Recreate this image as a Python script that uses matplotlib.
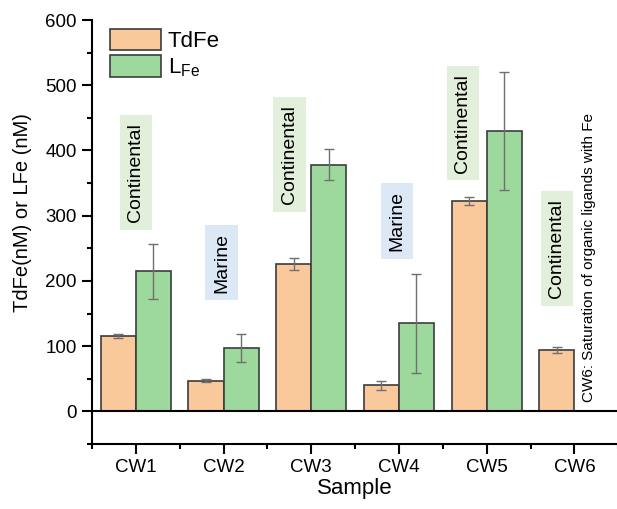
import numpy as np
import matplotlib
matplotlib.use("Agg")
import matplotlib.pyplot as plt
from matplotlib.ticker import MultipleLocator

plt.rcParams['font.family'] = ['Liberation Sans', 'DejaVu Sans']
plt.rcParams['mathtext.fontset'] = 'custom'
plt.rcParams['mathtext.rm'] = 'Liberation Sans'

# data
samples = ['CW1', 'CW2', 'CW3', 'CW4', 'CW5', 'CW6']
tdfe = [115, 47, 226, 40, 323, 94]
tdfe_err = [3, 2, 9, 6.5, 6, 5]
lfe = [215, 97, 378, 135, 430, 0]
lfe_err = [42, 21, 24, 76, 91, 0]

# region labels (text, kind, x, y)
reg_text = ['Continental', 'Marine', 'Continental', 'Marine', 'Continental', 'Continental']
reg_kind = ['c', 'm', 'c', 'm', 'c', 'c']
reg_x = [1.0, 1.98, 2.75, 3.98, 4.73, 5.80]
reg_y = [366, 228, 394, 292, 442, 250]
note = 'CW6: Saturation of organic ligands with Fe'

orange = '#f9c89b'
green = '#9dd89c'
box_col = {'c': '#e2efda', 'm': '#dce8f5'}

fig = plt.figure(figsize=(6.17, 5.09), dpi=100)
ax = fig.add_axes([0.149, 0.1277, 0.853, 0.833])

x = np.arange(1, len(samples) + 1)
w = 0.4
ekw = dict(ecolor='#707070', elinewidth=1, capsize=3.3, capthick=1)
ax.bar(x - w / 2, tdfe, w, yerr=tdfe_err, color=orange, edgecolor='#3c3c3c',
       linewidth=1.2, error_kw=ekw, label='TdFe', zorder=2)
n = len(samples) - 1
ax.bar(x[:n] + w / 2, lfe[:n], w, yerr=lfe_err[:n], color=green, edgecolor='#3c3c3c',
       linewidth=1.2, error_kw=ekw, label=r'L$_\mathregular{Fe}$', zorder=2)

ax.axhline(0, color='black', lw=1.5, zorder=3)

for t, k, xx, yy in zip(reg_text, reg_kind, reg_x, reg_y):
    ax.text(xx, yy, t, rotation=90, ha='center', va='center', fontsize=14,
            bbox=dict(boxstyle='square,pad=0.4', fc=box_col[k], ec='none'))

ax.text(6.17, 15, note, rotation=90, ha='center', va='bottom', fontsize=11)

ax.set_xlim(0.5, 6.5)
ax.set_ylim(-50, 600)
ax.set_xticks(x)
ax.set_xticklabels(samples)
ax.xaxis.set_minor_locator(MultipleLocator(1, offset=0.5))
ax.yaxis.set_major_locator(MultipleLocator(100))
ax.yaxis.set_minor_locator(MultipleLocator(50))
ax.tick_params(axis='both', which='major', labelsize=13.5, length=7, width=1.5,
               direction='out', pad=4)
ax.tick_params(axis='both', which='minor', length=3.5, width=1.5, direction='out')

for s in ['top', 'right']:
    ax.spines[s].set_visible(False)
for s in ['left', 'bottom']:
    ax.spines[s].set_linewidth(1.5)

ax.set_xlabel('Sample', fontsize=16, labelpad=1)
ax.set_ylabel('TdFe(nM) or LFe (nM)', fontsize=14.5)
ax.yaxis.set_label_coords(-0.114, 0.547)

ax.legend(loc='upper left', bbox_to_anchor=(0.034, 0.979), frameon=False,
          fontsize=16, handlelength=2.3, handleheight=1.1, labelspacing=0.15,
          handletextpad=0.3, borderpad=0, borderaxespad=0)

fig.savefig('out.png', dpi=100)
